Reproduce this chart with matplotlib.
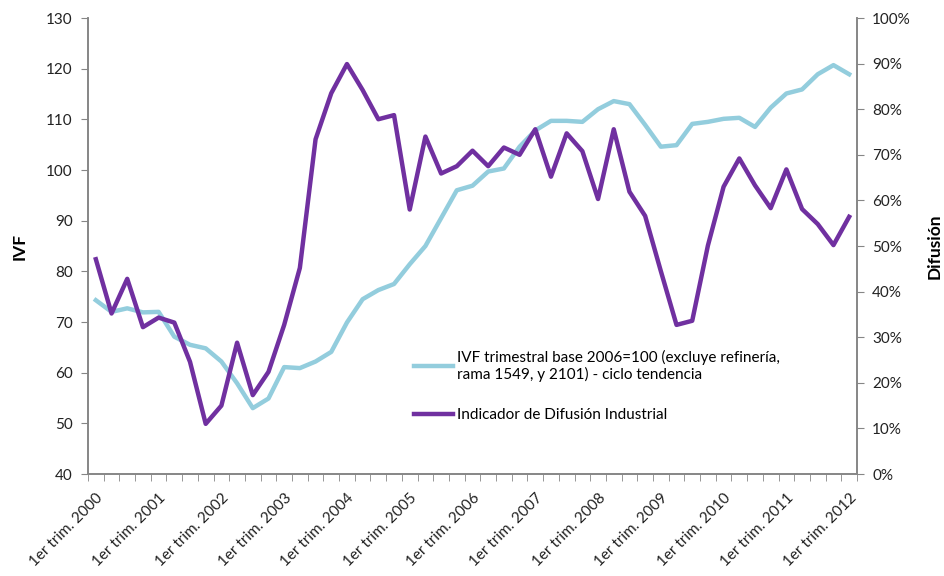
import matplotlib
matplotlib.use("Agg")
import matplotlib.pyplot as plt
import numpy as np

years = list(range(2000, 2013))
tick_labels = [f"1er trim. {y}" for y in years]

ivf = [74.3, 72.0, 72.7, 71.9, 72.0, 67.1, 65.5, 64.8, 62.2, 57.9, 53.0, 54.9,
       61.1, 60.9, 62.2, 64.1, 69.9, 74.5, 76.3, 77.5, 81.4, 85.0, 90.5, 96.0,
       96.9, 99.7, 100.3, 104.6, 107.8, 109.7, 109.7, 109.5, 112.0, 113.6, 113.0, 108.9,
       104.6, 104.9, 109.1, 109.5, 110.1, 110.3, 108.5, 112.3, 115.1, 115.9, 118.9, 120.7,
       118.9]

difusion = [47.1, 35.2, 42.8, 32.2, 34.3, 33.2, 24.6, 11.0, 15.0, 28.8, 17.3, 22.4,
            32.7, 45.2, 73.4, 83.5, 89.9, 84.2, 77.8, 78.7, 58.0, 74.0, 65.9, 67.5,
            70.9, 67.5, 71.6, 70.0, 75.6, 65.2, 74.7, 70.8, 60.3, 75.6, 61.9, 56.6,
            44.5, 32.7, 33.6, 50.1, 63.0, 69.2, 63.3, 58.3, 66.8, 58.1, 54.8, 50.2,
            56.4]

label_ivf = "IVF trimestral base 2006=100 (excluye refinería,\nrama 1549, y 2101) - ciclo tendencia"
label_dif = "Indicador de Difusión Industrial"

plt.rcParams['font.family'] = ['Lato', 'DejaVu Sans']

fig = plt.figure(figsize=(9.44, 5.76), dpi=100)
ax = fig.add_axes([88/944, 1 - 474/576, (857 - 88)/944, (474 - 18)/576])
ax2 = ax.twinx()

x = np.arange(len(ivf))
gray = '#868686'
l1, = ax.plot(x, ivf, color='#93CDDD', lw=3.2, solid_joinstyle='round', label=label_ivf)
l2, = ax2.plot(x, np.array(difusion) / 100, color='#7030A0', lw=3.2, solid_joinstyle='round', label=label_dif)

ax.set_xlim(-0.5, len(ivf) - 0.5)
ax.set_ylim(40, 130)
ax.set_yticks(range(40, 131, 10))
ax2.set_ylim(0, 1)
ax2.set_yticks(np.arange(0, 1.01, 0.1))
ax2.set_yticklabels([f"{int(round(v*100))}%" for v in np.arange(0, 1.01, 0.1)])

ax.set_xticks(range(0, len(ivf), 4))
ax.set_xticklabels(tick_labels, rotation=45, ha='right', rotation_mode='anchor', fontsize=11, color='#222222')
ax.set_xticks(np.arange(-0.5, len(ivf), 1), minor=True)
ax.tick_params(axis='x', which='major', length=0, pad=12)
ax.tick_params(axis='x', which='minor', length=5, color=gray, direction='out')
ax.tick_params(axis='y', length=5, color=gray, labelsize=11, labelcolor='#222222', pad=6)
ax2.tick_params(axis='y', length=5, color=gray, labelsize=11, labelcolor='#222222', pad=6)

for a in (ax, ax2):
    a.spines['top'].set_visible(False)
    for s in ('left', 'right', 'bottom'):
        a.spines[s].set_color(gray)
        a.spines[s].set_linewidth(1.2)

ax.set_ylabel("IVF", fontsize=12.5, fontweight='bold', va='center', ha='center')
ax.yaxis.set_label_coords((20 - 88) / 769, 0.5)
ax2.set_ylabel("Difusión", fontsize=12.5, fontweight='bold', va='center', ha='center')
ax2.yaxis.set_label_coords((935 - 88) / 769, 0.5)

leg = ax2.legend([l1, l2], [label_ivf, label_dif], loc='upper left',
                 bbox_to_anchor=(400/944, 1 - 336/576), bbox_transform=fig.transFigure,
                 frameon=False, fontsize=11, handlelength=2.6, handletextpad=0.2,
                 labelspacing=1.7)

fig.savefig("out.png", dpi=100)
